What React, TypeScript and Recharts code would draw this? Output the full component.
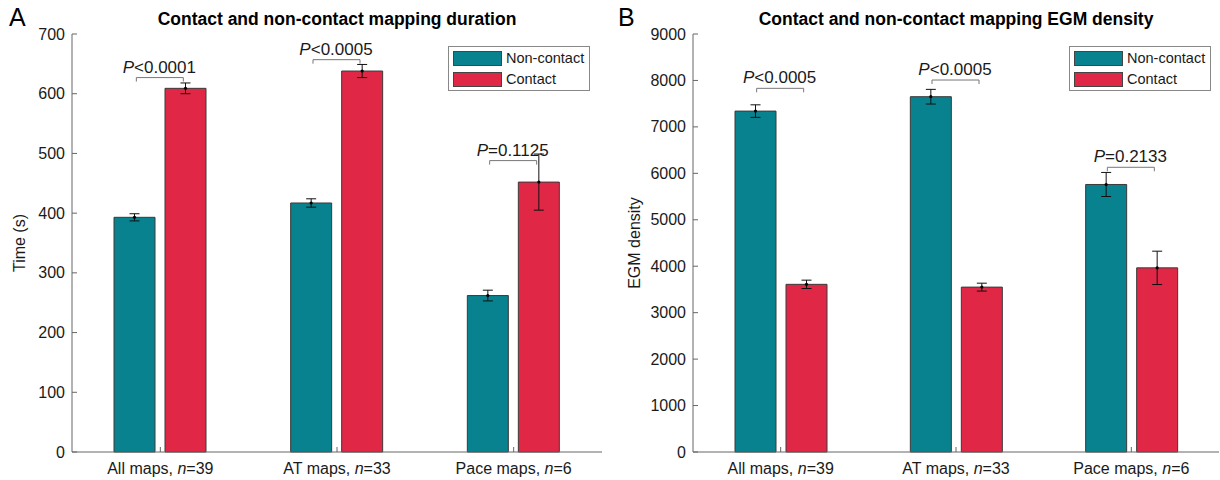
import React from 'react';
import { BarChart, Bar, XAxis, YAxis, ErrorBar, ReferenceDot, Legend, LabelList } from 'recharts';

// ---------------- data ----------------
const categories = ['All maps', 'AT maps', 'Pace maps'];
const nValues = ['39', '33', '6'];

const durationNonContact = [393, 417, 262];
const durationNonContactErr = [6, 7, 9];
const durationContact = [609, 638, 452];
const durationContactErr = [9, 11, 47];

const egmNonContact = [7340, 7650, 5760];
const egmNonContactErr = [135, 158, 259];
const egmContact = [3610, 3550, 3965];
const egmContactErr = [90, 85, 359];

const durationTicks = [0, 100, 200, 300, 400, 500, 600, 700];
const egmTicks = [0, 1000, 2000, 3000, 4000, 5000, 6000, 7000, 8000, 9000];

const durationPText = ['<0.0001', '<0.0005', '=0.1125'];
const durationPLevel = [627, 657, 488];
const egmPText = ['<0.0005', '<0.0005', '=0.2133'];
const egmPLevel = [7830, 8009, 6130];

const seriesNames = ['Non-contact', 'Contact'];

// ---------------- style ----------------
const FONT = '"Liberation Sans", Arial, Helvetica, sans-serif';
const TEAL = '#08828F';
const RED = '#E02846';
const AXIS = '#666';
const TEXT = '#1a1a1a';

const buildData = (nc: number[], ncErr: number[], c: number[], cErr: number[]) =>
  categories.map((cat, i) => ({ cat, n: nValues[i], nc: nc[i], ncErr: ncErr[i], c: c[i], cErr: cErr[i] }));

const durationData = buildData(durationNonContact, durationNonContactErr, durationContact, durationContactErr);
const egmData = buildData(egmNonContact, egmNonContactErr, egmContact, egmContactErr);

const LegendBox = (props: any) => {
  const payload = [...(props.payload || [])].sort(
    (a: any, b: any) => seriesNames.indexOf(a.value) - seriesNames.indexOf(b.value)
  );
  return (
    <div
      style={{
        width: 142,
        height: 45,
        border: '1px solid #888',
        boxSizing: 'border-box',
        background: '#fff',
        position: 'relative',
        fontFamily: FONT,
        fontSize: 14.5,
        color: TEXT,
      }}
    >
      {payload.map((p: any, i: number) => (
        <React.Fragment key={i}>
          <div
            style={{
              position: 'absolute',
              left: 4,
              top: 4 + i * 20.5,
              width: 49,
              height: 15,
              background: p.color,
              border: '1px solid #444',
              boxSizing: 'border-box',
            }}
          />
          <div style={{ position: 'absolute', left: 57, top: 3 + i * 20.5, lineHeight: '17px', whiteSpace: 'nowrap' }}>
            {p.value}
          </div>
        </React.Fragment>
      ))}
    </div>
  );
};

const makeLeftTick = () => (props: any) => {
  const { x, y, payload } = props;
  return (
    <g>
      <line x1={x} x2={x + 5} y1={y} y2={y} stroke={AXIS} strokeWidth={1} />
      <text x={x - 7} y={y + 5.5} textAnchor="end" fontSize={16} fontFamily={FONT} fill={TEXT}>
        {payload.value}
      </text>
    </g>
  );
};

const RightTick = (props: any) => {
  const { x, y } = props;
  return <line x1={x} x2={x - 5} y1={y} y2={y} stroke={AXIS} strokeWidth={1} />;
};

const TopTick = (props: any) => {
  const { x, y } = props;
  return <line x1={x} x2={x} y1={y} y2={y + 5} stroke={AXIS} strokeWidth={1} />;
};

const BottomTick = (props: any) => {
  const { x, y, payload, index } = props;
  return (
    <g>
      <line x1={x} x2={x} y1={y} y2={y - 5} stroke={AXIS} strokeWidth={1} />
      <text x={x} y={y + 22} textAnchor="middle" fontSize={16} fontFamily={FONT} fill={TEXT}>
        {payload.value + ', '}
        <tspan fontStyle="italic">n</tspan>
        {'=' + nValues[index]}
      </text>
    </g>
  );
};

const makeBracket = (label: string) => (props: any) => {
  const { cx, cy } = props;
  return (
    <g>
      <path
        d={`M${cx - 24},${cy + 4} V${cy} H${cx + 23} V${cy + 4}`}
        fill="none"
        stroke="#777"
        strokeWidth={1}
      />
      <text x={cx - 1} y={cy - 5} textAnchor="middle" fontSize={17} fontFamily={FONT} fill={TEXT}>
        <tspan fontStyle="italic">P</tspan>
        {label}
      </text>
    </g>
  );
};

const MeanDot = (props: any) => {
  const { x, y, width } = props;
  if (x == null || y == null) return null;
  return <circle cx={x + width / 2} cy={y} r={1.6} fill="#000" />;
};

type PanelProps = {
  data: any[];
  ticks: number[];
  yMax: number;
  yLabel: string;
  yAxisWidth: number;
  rightMargin: number;
  title: string;
  letter: string;
  letterX: number;
  yLabelX: number;
  pText: string[];
  pLevel: number[];
  legendLeft: number;
};

const Panel = (p: PanelProps) => {
  const W = 610;
  const H = 480;
  const plotLeft = p.yAxisWidth;
  const plotRight = W - p.rightMargin;
  const titleX = (plotLeft + plotRight) / 2;
  const LeftTick = makeLeftTick();
  return (
    <div style={{ position: 'relative', width: W, height: H }}>
      <BarChart
        width={W}
        height={H}
        data={p.data}
        margin={{ top: 34, right: p.rightMargin, bottom: 0, left: 0 }}
        barSize={41}
        barGap={10}
      >
        <XAxis
          dataKey="cat"
          height={28}
          interval={0}
          tickSize={0}
          tickMargin={0}
          tickLine={false}
          axisLine={{ stroke: AXIS, strokeWidth: 1 }}
          tick={<BottomTick />}
        />
        <XAxis
          xAxisId="t"
          dataKey="cat"
          orientation="top"
          height={0}
          interval={0}
          tickSize={0}
          tickMargin={0}
          tickLine={false}
          axisLine={{ stroke: AXIS, strokeWidth: 1 }}
          tick={<TopTick />}
        />
        <YAxis
          width={p.yAxisWidth}
          domain={[0, p.yMax]}
          ticks={p.ticks}
          interval={0}
          tickSize={0}
          tickMargin={0}
          tickLine={false}
          axisLine={{ stroke: AXIS, strokeWidth: 1 }}
          tick={<LeftTick />}
          label={{
            content: () => (
              <text
                x={p.yLabelX}
                y={243}
                transform={`rotate(-90 ${p.yLabelX} 243)`}
                textAnchor="middle"
                fontSize={16}
                fontFamily={FONT}
                fill={TEXT}
              >
                {p.yLabel}
              </text>
            ),
          }}
        />
        <YAxis
          yAxisId="r"
          orientation="right"
          width={0}
          domain={[0, p.yMax]}
          ticks={p.ticks}
          interval={0}
          tickSize={0}
          tickMargin={0}
          tickLine={false}
          axisLine={{ stroke: AXIS, strokeWidth: 1 }}
          tick={<RightTick />}
        />
        <Legend
          layout="horizontal"
          verticalAlign="middle"
          align="center"
          wrapperStyle={{ left: p.legendLeft, top: 46, width: 142, height: 45 }}
          content={(lp: any) => <LegendBox payload={lp.payload} />}
        />
        <Bar dataKey="nc" name={seriesNames[0]} fill={TEAL} stroke="#3a3a3a" strokeWidth={1} isAnimationActive={false}>
          <ErrorBar dataKey="ncErr" width={5} stroke="#111" strokeWidth={1} direction="y" />
          <LabelList dataKey="nc" content={<MeanDot />} />
        </Bar>
        <Bar dataKey="c" name={seriesNames[1]} fill={RED} stroke="#3a3a3a" strokeWidth={1} isAnimationActive={false}>
          <ErrorBar dataKey="cErr" width={5} stroke="#111" strokeWidth={1} direction="y" />
          <LabelList dataKey="c" content={<MeanDot />} />
        </Bar>
        {categories.map((cat, i) => (
          <ReferenceDot
            key={cat}
            x={cat}
            y={p.pLevel[i]}
            r={0}
            ifOverflow="visible"
            shape={makeBracket(p.pText[i])}
          />
        ))}
      </BarChart>
      <svg
        width={W}
        height={H}
        style={{ position: 'absolute', left: 0, top: 0, pointerEvents: 'none' }}
      >
        <text x={titleX} y={25} textAnchor="middle" fontSize={17.5} fontWeight="bold" fontFamily={FONT} fill="#000">
          {p.title}
        </text>
        <text x={p.letterX} y={26} fontSize={25} fontFamily={FONT} fill="#000">
          {p.letter}
        </text>
      </svg>
    </div>
  );
}

export default function App() {
  return (
    <div
      style={{
        position: 'relative',
        width: 1220,
        height: 480,
        background: '#fff',
        display: 'flex',
        flexDirection: 'row',
        fontFamily: FONT,
      }}
    >
      <style>{'body{margin:0;}'}</style>
      <Panel
        data={durationData}
        ticks={durationTicks}
        yMax={700}
        yLabel="Time (s)"
        yAxisWidth={72}
        rightMargin={8}
        title="Contact and non-contact mapping duration"
        letter="A"
        letterX={9}
        yLabelX={25}
        pText={durationPText}
        pLevel={durationPLevel}
        legendLeft={448}
      />
      <Panel
        data={egmData}
        ticks={egmTicks}
        yMax={9000}
        yLabel="EGM density"
        yAxisWidth={83}
        rightMargin={1}
        title="Contact and non-contact mapping EGM density"
        letter="B"
        letterX={8}
        yLabelX={30}
        pText={egmPText}
        pLevel={egmPLevel}
        legendLeft={459}
      />
    </div>
  );
}
